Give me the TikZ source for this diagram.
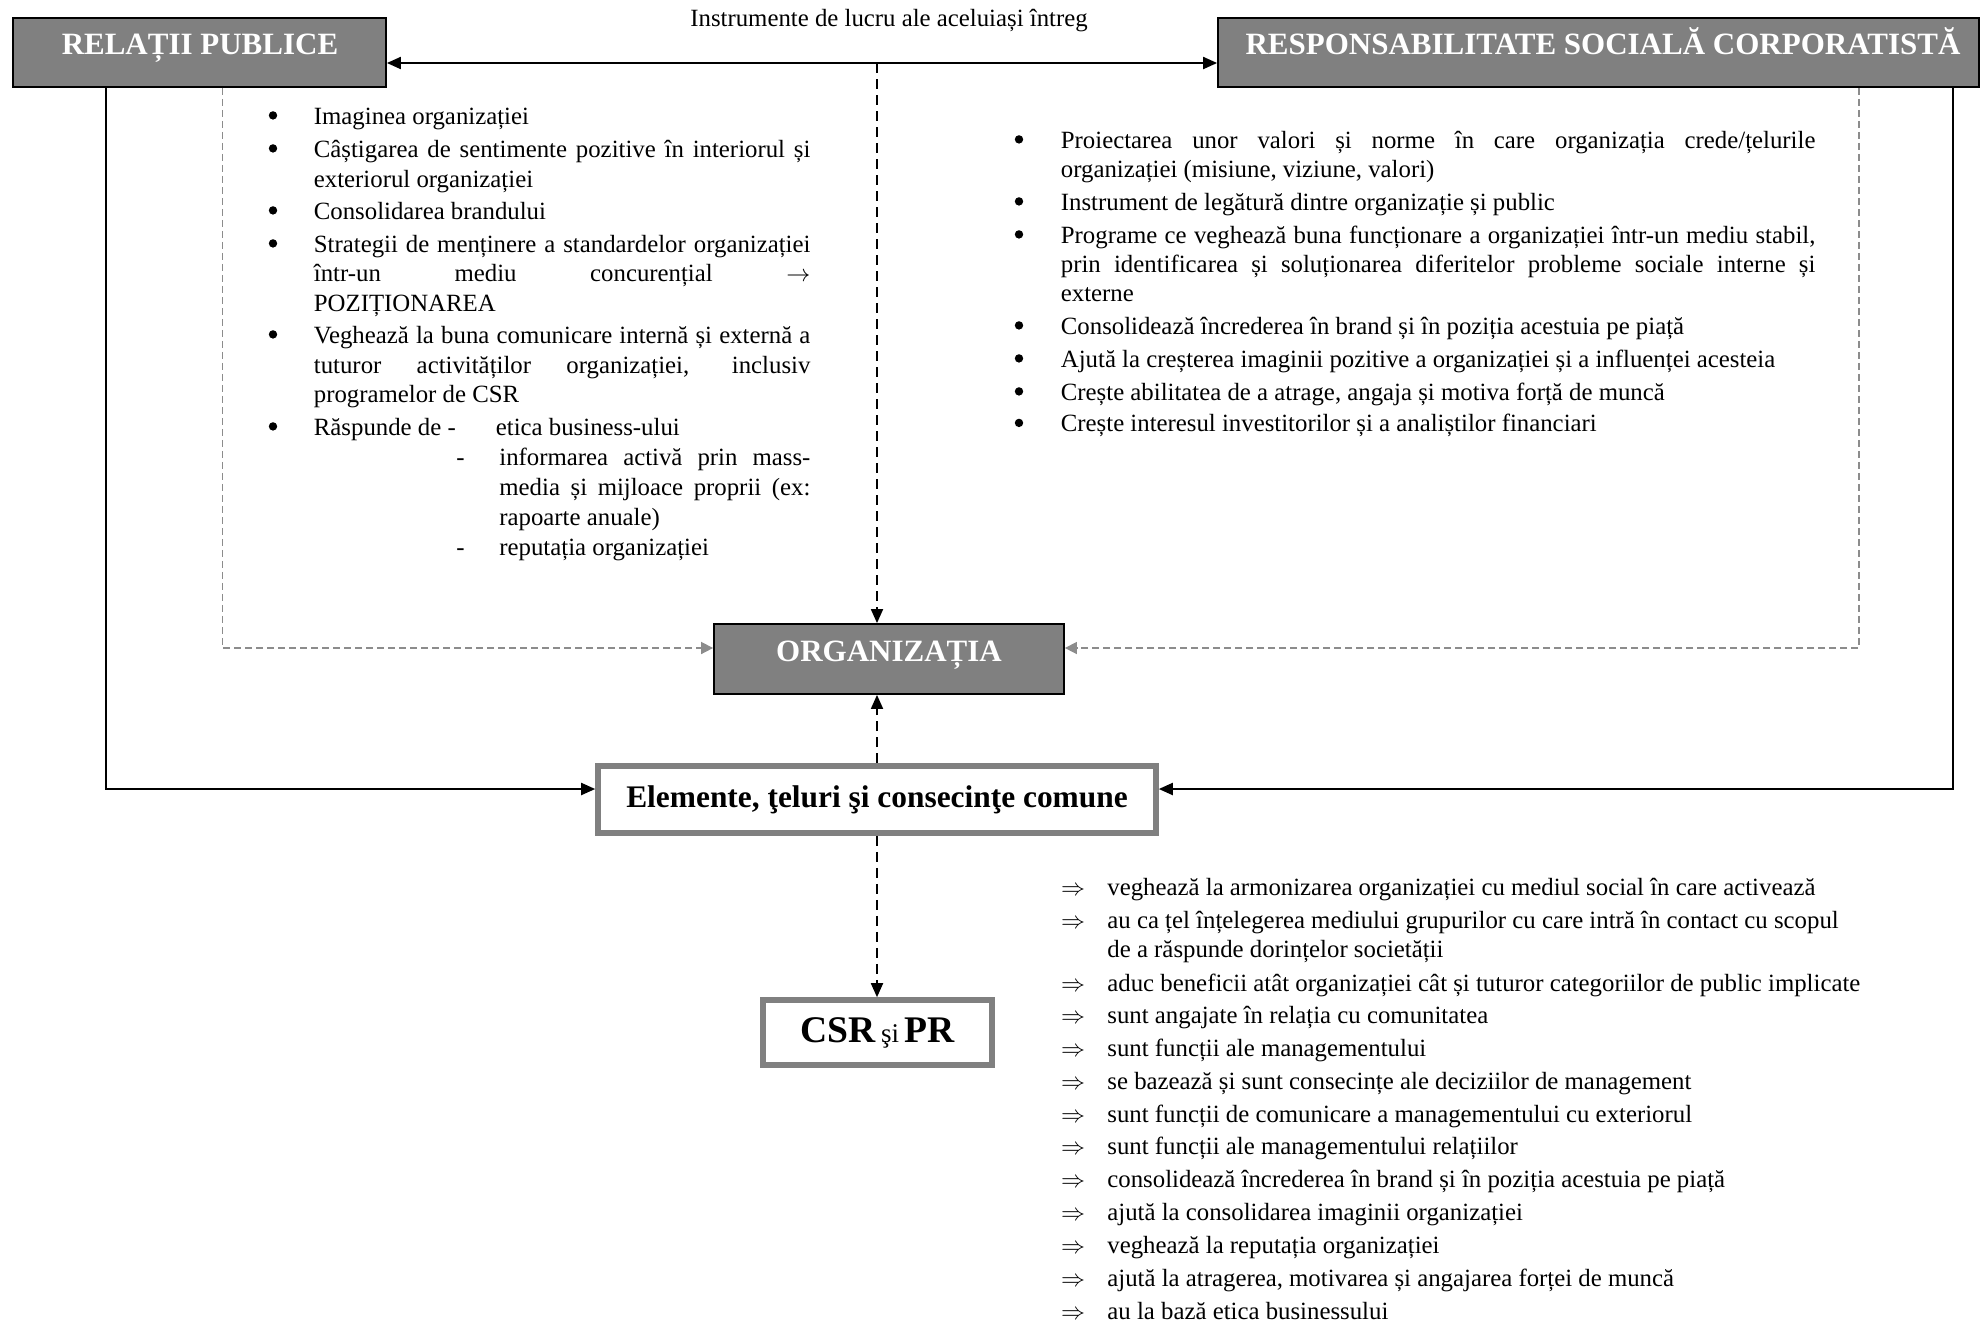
\documentclass[tikz,border=0pt]{standalone}
\usepackage{fontspec}
\setmainfont{Liberation Serif}
\usetikzlibrary{arrows.meta}
\definecolor{boxgray}{RGB}{128,128,128}
\definecolor{dashgray}{RGB}{140,140,140}
\newcommand\bodyfont{\fontsize{12.4}{15}\selectfont}
\newcommand\titlefont{\fontsize{15.5}{18}\selectfont\bfseries}
\newcommand\jline[2]{\makebox[#1][s]{#2}}
\begin{document}
\begin{tikzpicture}[x=0.5pt,y=-0.5pt,
  darkbox/.style={draw=black, line width=0.9pt, fill=boxgray, inner sep=0pt},
  framebox/.style={draw=boxgray, line width=2.8pt, fill=white, inner sep=0pt},
  titletext/.style={anchor=base, inner sep=0pt, text=white, font=\titlefont},
  txt/.style={anchor=base west, inner sep=0pt, font=\bodyfont},
  dotnode/.style={circle, fill=black, inner sep=0pt, minimum size=4.2pt, yshift=4.3pt},
  arrnode/.style={anchor=base, inner sep=0pt, font=\bodyfont},
  solidconn/.style={draw=black, line width=1pt},
  blacktip/.style={-{Triangle[length=7pt,width=6pt]}},
  blackdash/.style={draw=black, line width=0.9pt, dash pattern=on 5pt off 3pt},
  graydash/.style={draw=dashgray, line width=0.8pt, dash pattern=on 3.5pt off 2pt,
    -{Triangle[length=6pt,width=6pt,fill=dashgray]}},
]
\useasboundingbox (0,0) rectangle (1982,1324);

% ---- boxes
\node[darkbox, minimum width=186.5pt, minimum height=34.5pt] (rp) at (199.5,52.5) {};
\node[titletext] (rptitle) at (200,54) {RELAȚII PUBLICE};
\node[darkbox, minimum width=380.5pt, minimum height=34.5pt] (rsc) at (1598.5,52.5) {};
\node[titletext] (rsctitle) at (1603,54) {RESPONSABILITATE SOCIALĂ CORPORATISTĂ};
\node[darkbox, minimum width=175pt, minimum height=35pt] (org) at (889,659) {};
\node[titletext] (orgtitle) at (889,661) {ORGANIZAȚIA};
\node[framebox, minimum width=279pt, minimum height=33.5pt,
  font=\fontsize{15.7}{18}\selectfont\bfseries] (elem) at (877,799.5)
  {Elemente, ţeluri şi consecinţe comune};
\node[framebox, minimum width=114.5pt, minimum height=32.5pt] (csrpr) at (877.5,1032.5)
  {{\fontsize{18.8}{22}\selectfont\bfseries CSR} {\fontsize{13.5}{16}\selectfont şi} {\fontsize{18.8}{22}\selectfont\bfseries PR}};

\node[anchor=base, inner sep=0pt, font=\bodyfont] (instr) at (889,26) {Instrumente de lucru ale aceluiași întreg};

% ---- helper coordinates
\coordinate (topy) at (0,63);
\coordinate (tc) at (877,63);
\coordinate (lx) at (106,0);
\coordinate (rx) at (1953,0);
\coordinate (ly) at (0,789);
\coordinate (glx) at (222.5,0);
\coordinate (grx) at (1859,0);
\coordinate (gy) at (0,648);

% ---- connectors
\draw[solidconn, {Triangle[length=7pt,width=6pt]}-{Triangle[length=7pt,width=6pt]}]
  (rp.east |- topy) -- (rsc.west |- topy);
\draw[blackdash, blacktip] (tc) -- (org.north -| tc);
\draw[solidconn, blacktip] (rp.south -| lx) -- (lx |- ly) -- (elem.west |- ly);
\draw[solidconn, blacktip] (rsc.south -| rx) -- (rx |- ly) -- (elem.east |- ly);
\draw[graydash] (rp.south -| glx) -- (glx |- gy) -- (org.west |- gy);
\draw[graydash] (rsc.south -| grx) -- (grx |- gy) -- (org.east |- gy);
\draw[blackdash, blacktip] (elem.north -| tc) -- (org.south -| tc);
\draw[blackdash, blacktip] (elem.south -| tc) -- (csrpr.north -| tc);

% ---- left list
\foreach \yy [count=\i] in {124,157,219,252,343,435}
  \node[dotnode] (lb\i) at (273,\yy) {};
\node[txt] (l1) at (313.5,124) {Imaginea organizației};
\node[txt] (l2) at (313.5,157) {\jline{248.25pt}{Câștigarea de sentimente pozitive în interiorul și}};
\node[txt] (l3) at (313.5,187.5) {exteriorul organizației};
\node[txt] (l4) at (313.5,219) {Consolidarea brandului};
\node[txt] (l5) at (313.5,252) {\jline{248.25pt}{Strategii de menținere a standardelor organizației}};
\node[txt] (l6) at (313.5,281) {\jline{248.25pt}{într-un mediu concurențial $\rightarrow$}};
\node[txt] (l7) at (313.5,311) {POZIȚIONAREA};
\node[txt] (l8) at (313.5,343) {\jline{248.25pt}{Veghează la buna comunicare internă și externă a}};
\node[txt] (l9) at (313.5,373) {\jline{248.25pt}{tuturor activităților organizației, inclusiv}};
\node[txt] (l10) at (313.5,402) {programelor de CSR};
\node[txt] (l11) at (313.5,435) {Răspunde de -};
\node[txt] (l11b) at (495.5,435) {etica business-ului};
\node[txt] (l12d) at (456,465.5) {-};
\node[txt] (l12) at (499,465.5) {\jline{155.5pt}{informarea activă prin mass-}};
\node[txt] (l13) at (499,495) {\jline{155.5pt}{media și mijloace proprii (ex:}};
\node[txt] (l14) at (499,525) {rapoarte anuale)};
\node[txt] (l15d) at (456,555) {-};
\node[txt] (l15) at (499,555) {reputația organizației};

% ---- right list
\foreach \yy [count=\i] in {148,210,243,334,367,400,431.5}
  \node[dotnode] (rb\i) at (1019,\yy) {};
\node[txt] (r1) at (1060.5,148) {\jline{377.25pt}{Proiectarea unor valori și norme în care organizația crede/țelurile}};
\node[txt] (r2) at (1060.5,177) {organizației (misiune, viziune, valori)};
\node[txt] (r3) at (1060.5,210) {Instrument de legătură dintre organizație și public};
\node[txt] (r4) at (1060.5,243) {\jline{377.25pt}{Programe ce veghează buna funcționare a organizației într-un mediu stabil,}};
\node[txt] (r5) at (1060.5,272) {\jline{377.25pt}{prin identificarea și soluționarea diferitelor probleme sociale interne și}};
\node[txt] (r6) at (1060.5,301) {externe};
\node[txt] (r7) at (1060.5,334) {Consolidează încrederea în brand și în poziția acestuia pe piață};
\node[txt] (r8) at (1060.5,367) {Ajută la creșterea imaginii pozitive a organizației și a influenței acesteia};
\node[txt] (r9) at (1060.5,400) {Crește abilitatea de a atrage, angaja și motiva forță de muncă};
\node[txt] (r10) at (1060.5,431.5) {Crește interesul investitorilor și a analiștilor financiari};

% ---- bottom list
\foreach \yy [count=\i] in {895,928,991,1023,1056,1089,1122,1154,1187,1220,1253,1286,1319}
  \node[arrnode] (ba\i) at (1073,\yy) {$\Rightarrow$};
\node[txt] (b1) at (1107,895) {veghează la armonizarea organizației cu mediul social în care activează};
\node[txt] (b2) at (1107,928) {au ca țel înțelegerea mediului grupurilor cu care intră în contact cu scopul};
\node[txt] (b3) at (1107,957) {de a răspunde dorințelor societății};
\node[txt] (b4) at (1107,991) {aduc beneficii atât organizației cât și tuturor categoriilor de public implicate};
\node[txt] (b5) at (1107,1023) {sunt angajate în relația cu comunitatea};
\node[txt] (b6) at (1107,1056) {sunt funcții ale managementului};
\node[txt] (b7) at (1107,1089) {se bazează și sunt consecințe ale deciziilor de management};
\node[txt] (b8) at (1107,1122) {sunt funcții de comunicare a managementului cu exteriorul};
\node[txt] (b9) at (1107,1154) {sunt funcții ale managementului relațiilor};
\node[txt] (b10) at (1107,1187) {consolidează încrederea în brand și în poziția acestuia pe piață};
\node[txt] (b11) at (1107,1220) {ajută la consolidarea imaginii organizației};
\node[txt] (b12) at (1107,1253) {veghează la reputația organizației};
\node[txt] (b13) at (1107,1286) {ajută la atragerea, motivarea și angajarea forței de muncă};
\node[txt] (b14) at (1107,1319) {au la bază etica businessului};
\end{tikzpicture}
\end{document}
